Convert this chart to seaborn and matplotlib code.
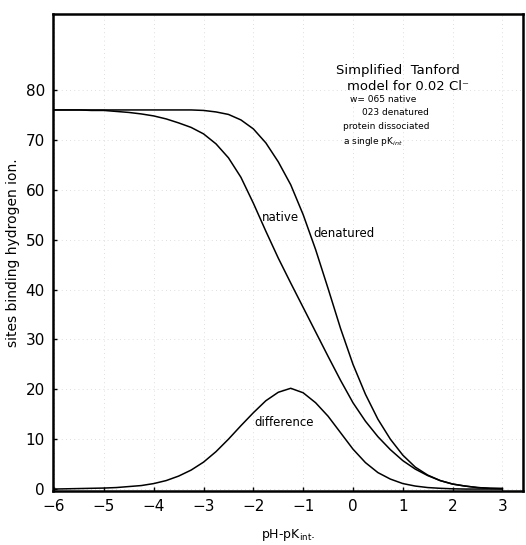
import numpy as np
import pandas as pd
import matplotlib
matplotlib.use("Agg")
import matplotlib.pyplot as plt
import seaborn as sns

# values (pH - pK_int steps of 0.25)
ph = [-6, -5.75, -5.5, -5.25, -5, -4.75, -4.5, -4.25, -4, -3.75, -3.5, -3.25,
      -3, -2.75, -2.5, -2.25, -2, -1.75, -1.5, -1.25, -1, -0.75, -0.5, -0.25,
      0, 0.25, 0.5, 0.75, 1, 1.25, 1.5, 1.75, 2, 2.25, 2.5, 2.75, 3]
native = [76.0, 76.0, 76.0, 75.9, 75.9, 75.7, 75.5, 75.2, 74.8, 74.2, 73.4,
          72.5, 71.2, 69.2, 66.4, 62.5, 57.3, 51.7, 46.3, 41.3, 36.4, 31.5,
          26.6, 21.8, 17.3, 13.6, 10.5, 7.9, 5.7, 4.0, 2.7, 1.7, 1.0, 0.6,
          0.3, 0.15, 0.1]
denatured = [76.0, 76.0, 76.0, 76.0, 76.0, 76.0, 76.0, 76.0, 76.0, 76.0, 76.0,
             76.0, 75.9, 75.6, 75.1, 74.0, 72.2, 69.4, 65.6, 61.0, 55.0, 48.0,
             40.2, 32.2, 25.0, 19.0, 14.0, 10.0, 6.8, 4.4, 2.8, 1.7, 1.0, 0.6,
             0.3, 0.15, 0.1]
difference = [0.0, 0.05, 0.1, 0.15, 0.2, 0.3, 0.5, 0.7, 1.1, 1.7, 2.6, 3.8,
              5.4, 7.5, 10.0, 12.7, 15.3, 17.7, 19.4, 20.2, 19.3, 17.3, 14.6,
              11.3, 8.0, 5.3, 3.3, 2.0, 1.1, 0.6, 0.3, 0.15, 0.05, 0.0, 0.0,
              0.0, 0.0]
xticks = [-6, -5, -4, -3, -2, -1, 0, 1, 2, 3]
yticks = [0, 10, 20, 30, 40, 50, 60, 70, 80]

df = pd.DataFrame({"ph": ph, "native": native, "denatured": denatured,
                   "difference": difference})

sns.set_style("ticks")
plt.rcParams['font.family'] = ['DejaVu Sans']
plt.rcParams['text.color'] = 'black'
plt.rcParams['axes.labelcolor'] = 'black'

fig = plt.figure(figsize=(5.26, 5.45), dpi=100)
ax = fig.add_axes([0.101, 0.099, 0.893, 0.875])

for col in ["native", "denatured", "difference"]:
    sns.lineplot(data=df, x="ph", y=col, color="black", lw=1.1, ax=ax)

ax.set_xlim(-6.02, 3.41)
ax.set_ylim(-0.4, 95.2)
ax.set_xticks(xticks)
ax.set_yticks(yticks)
ax.tick_params(labelsize=11, length=3, width=1, direction="in", pad=6,
               colors="black")
ax.grid(True, color="gray", alpha=0.35, lw=0.6, ls=(0, (1, 4)))
for s in ax.spines.values():
    s.set_linewidth(1.8)
    s.set_color("black")

ax.set_xlabel("pH-pK$_{\\rm int}$.", fontsize=9, labelpad=9)
ax.set_ylabel("sites binding hydrogen ion.", fontsize=10, labelpad=4)

ax.text(-1.83, 54.5, "native", fontsize=8.5, va="center")
ax.text(-0.80, 51.3, "denatured", fontsize=8.5, va="center")
ax.text(-1.97, 13.4, "difference", fontsize=8.5, va="center")

ax.text(-0.34, 84.0, "Simplified  Tanford", fontsize=9.5, va="center")
ax.text(-0.12, 80.6, "model for 0.02 Cl\u207b", fontsize=9.5, va="center")
ax.text(-0.06, 78.0, "w= 065 native", fontsize=6.5, va="center")
ax.text(0.18, 75.4, "023 denatured", fontsize=6.5, va="center")
ax.text(-0.20, 72.6, "protein dissociated", fontsize=6.5, va="center")
ax.text(-0.20, 69.6, "a single pK$_{int}$", fontsize=6.5, va="center")

fig.savefig("out.png", dpi=100)
